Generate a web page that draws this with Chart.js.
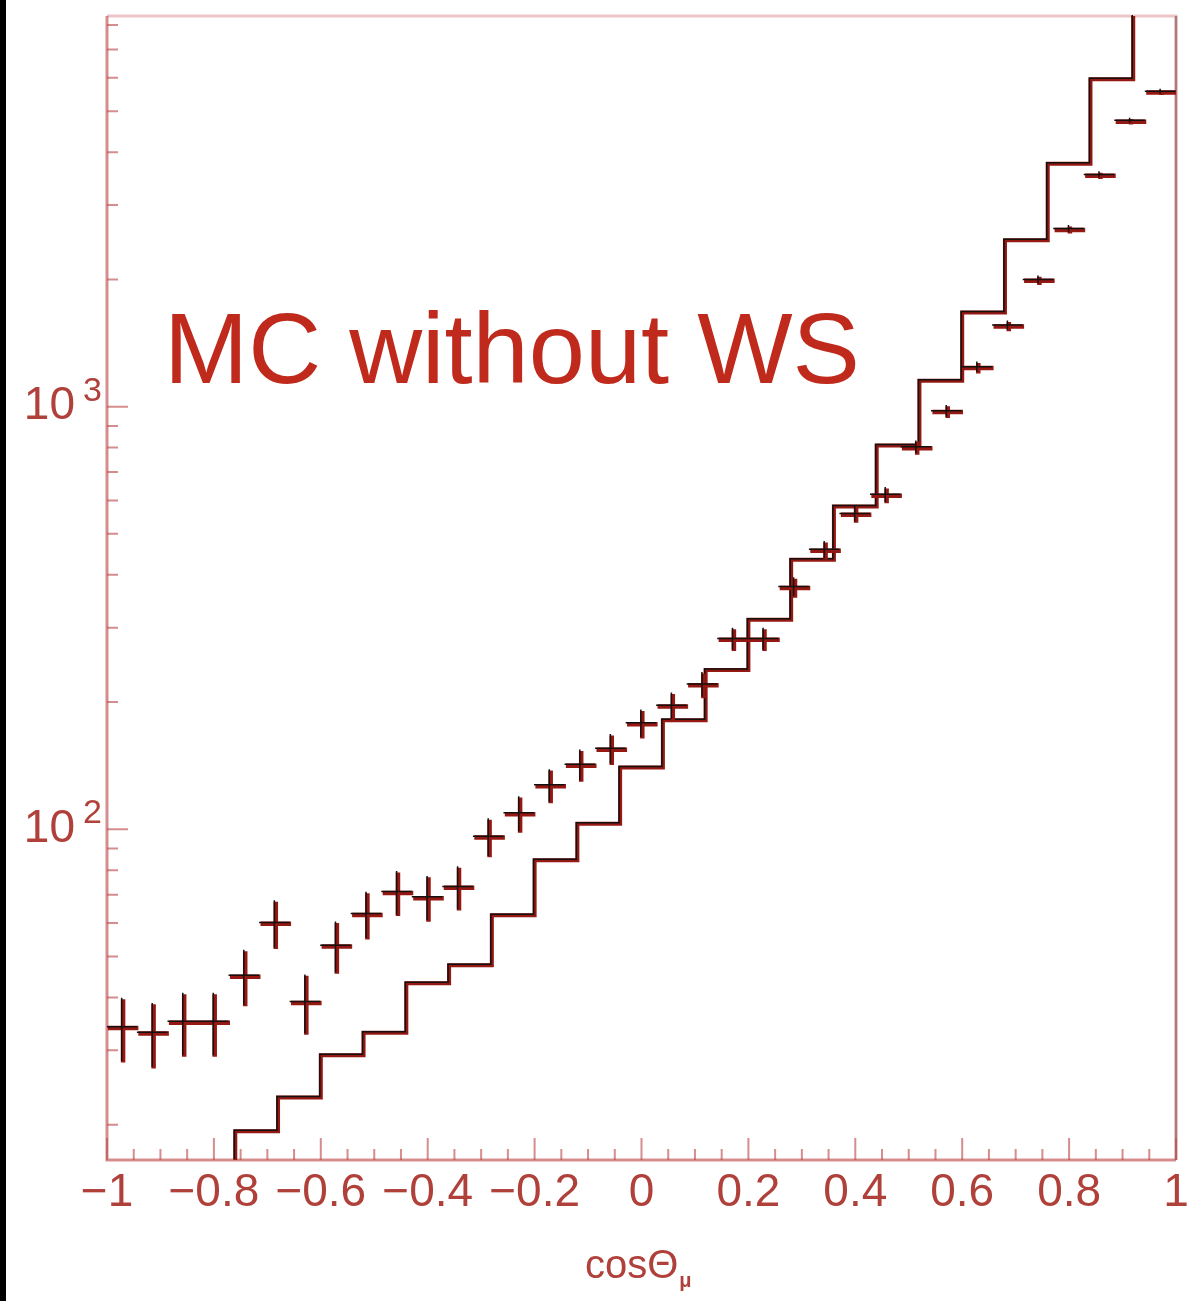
<!DOCTYPE html>
<html>
<head>
<meta charset="utf-8">
<script src="https://cdn.jsdelivr.net/npm/chart.js@4.4.1/dist/chart.umd.min.js"></script>
<style>
  html, body { margin: 0; padding: 0; background: #fff; }
  #wrap { position: relative; width: 1203px; height: 1301px; overflow: hidden; }
  #edge { position: absolute; left: 0; top: 0; width: 6px; height: 1301px; background: #000; }
  canvas { display: block; }
</style>
</head>
<body>
<div id="wrap">
  <canvas id="c" width="1203" height="1301"></canvas>
  <div id="edge"></div>
</div>
<script>
// cos(theta_mu) distribution: measured counts (35 bins) and MC histogram (25 bins)

// bin centres of the measured distribution
const dataCenters = [-0.9714, -0.9143, -0.8571, -0.8000, -0.7429, -0.6857, -0.6286,
  -0.5714, -0.5143, -0.4571, -0.4000, -0.3429, -0.2857, -0.2286, -0.1714, -0.1143,
  -0.0571, 0.0000, 0.0571, 0.1143, 0.1714, 0.2286, 0.2857, 0.3429, 0.4000, 0.4571,
  0.5143, 0.5714, 0.6286, 0.6857, 0.7429, 0.8000, 0.8571, 0.9143, 0.9714];
// measured counts per bin
const dataCounts = [34, 33, 35, 35, 45, 60, 39, 53, 63, 71, 69, 73, 96, 109, 127, 142,
  155, 178, 196, 220, 282, 282, 374, 458, 557, 618, 801, 975, 1239, 1554, 1993, 2630,
  3532, 4743, 5558];
// statistical errors per bin
const dataErrors = [5.8, 5.7, 5.9, 5.9, 6.7, 7.7, 6.2, 7.3, 7.9, 8.4, 8.3, 8.5, 9.8,
  10.4, 11.3, 11.9, 12.4, 13.3, 14.0, 14.8, 16.8, 16.8, 19.3, 21.4, 23.6, 24.9, 28.3,
  31.2, 35.2, 39.4, 44.6, 51.3, 59.4, 68.9, 74.6];
const dataHalfWidth = 0.0286;

// MC histogram: bin edges and contents
const mcEdges = [-1.00, -0.92, -0.84, -0.76, -0.68, -0.60, -0.52, -0.44, -0.36, -0.28,
  -0.20, -0.12, -0.04, 0.04, 0.12, 0.20, 0.28, 0.36, 0.44, 0.52, 0.60, 0.68, 0.76,
  0.84, 0.92, 1.00];
const mcCounts = [10.5, 12.5, 15, 19.3, 23.2, 29.2, 33.0, 43.2, 47.7, 62.6, 84.5, 103,
  140, 181, 238, 313, 434, 580, 809, 1152, 1671, 2477, 3758, 5954, 9300];

// axis ticks
const xTickValues = [-1, -0.8, -0.6, -0.4, -0.2, 0, 0.2, 0.4, 0.6, 0.8, 1];
const xTickLabels = ['\u22121', '\u22120.8', '\u22120.6', '\u22120.4', '\u22120.2', '0',
  '0.2', '0.4', '0.6', '0.8', '1'];
const yTickExponents = [2, 3];
const xTitle = 'cos\u0398';
const xTitleSub = '\u03bc';
const overlayText = 'MC without WS';

const FONT = '"Liberation Sans", Arial, Helvetica, sans-serif';
const COL = {
  label: '#b0403a',
  axis: 'rgba(190, 80, 80, 0.65)',
  axisLight: 'rgba(205, 110, 110, 0.4)',
  red: '#951812',
  ink: '#141010',
  big: '#bf2a1c'
};

// step histogram points: each bin starts at its left edge, closing point at the last edge
const mcPoints = mcCounts.map((v, i) => ({ x: mcEdges[i], y: v }));
mcPoints.push({ x: mcEdges[mcEdges.length - 1], y: mcCounts[mcCounts.length - 1] });
const dataPoints = dataCenters.map((c, i) => ({ x: c, y: dataCounts[i] }));

// frame, inward ticks, y labels, axis title and overlay text
const decorations = {
  id: 'decorations',
  beforeDatasetsDraw(chart) {
    const { ctx, chartArea: a, scales: { x, y } } = chart;
    ctx.save();
    // top and right frame
    ctx.strokeStyle = COL.axisLight;
    ctx.lineWidth = 3;
    ctx.beginPath();
    ctx.moveTo(a.left, a.top); ctx.lineTo(a.right, a.top); ctx.lineTo(a.right, a.bottom);
    ctx.stroke();
    ctx.strokeStyle = 'rgba(150, 90, 90, 0.7)';
    ctx.lineWidth = 2.5;
    ctx.beginPath(); ctx.moveTo(a.right, a.top); ctx.lineTo(a.right, a.bottom); ctx.stroke();
    // left and bottom axes
    ctx.strokeStyle = COL.axis;
    ctx.lineWidth = 3;
    ctx.beginPath();
    ctx.moveTo(a.left, a.top); ctx.lineTo(a.left, a.bottom); ctx.lineTo(a.right, a.bottom);
    ctx.stroke();
    // x ticks: major every 0.2, minor every 0.05
    ctx.lineWidth = 2;
    ctx.beginPath();
    for (let k = 0; k <= 40; k++) {
      const v = -1 + k * 0.05;
      const px = x.getPixelForValue(v);
      const len = (k % 4 === 0) ? 22 : 11;
      ctx.moveTo(px, a.bottom); ctx.lineTo(px, a.bottom - len);
    }
    // y ticks on the log scale
    for (let e = 1; e <= 3; e++) {
      for (let m = 1; m <= 9; m++) {
        const v = m * Math.pow(10, e);
        if (v < y.min || v > y.max) continue;
        const py = y.getPixelForValue(v);
        const len = (m === 1) ? 21 : 11;
        ctx.moveTo(a.left, py); ctx.lineTo(a.left + len, py);
      }
    }
    ctx.stroke();

    // y tick labels 10^n
    ctx.fillStyle = COL.label;
    yTickExponents.forEach(n => {
      const py = y.getPixelForValue(Math.pow(10, n));
      ctx.font = '46px ' + FONT;
      ctx.textAlign = 'right'; ctx.textBaseline = 'middle';
      ctx.fillText('10', 75, py);
      ctx.font = '34px ' + FONT;
      ctx.textAlign = 'left'; ctx.textBaseline = 'alphabetic';
      ctx.fillText(String(n), 83, py - 6);
    });

    // x axis title
    ctx.font = '40px ' + FONT;
    ctx.textAlign = 'left'; ctx.textBaseline = 'alphabetic';
    ctx.fillText(xTitle, 585, 1278);
    const w = ctx.measureText(xTitle).width;
    ctx.font = 'bold 20px ' + FONT;
    ctx.fillText(xTitleSub, 585 + w + 1, 1287);

    // overlay text
    ctx.fillStyle = COL.big;
    ctx.font = '101px ' + FONT;
    ctx.fillText(overlayText, 164, 383);
    ctx.restore();
  },
  beforeDatasetDraw(chart, args) {
    if (chart.data.datasets[args.index].inkShift) {
      chart.ctx.save();
      chart.ctx.translate(-1, -1);
    }
  },
  afterDatasetDraw(chart, args) {
    if (chart.data.datasets[args.index].inkShift) {
      chart.ctx.restore();
    }
  }
};

// crosses for the measured points: bin width horizontally, error vertically
const errorBars = {
  id: 'errorBars',
  afterDatasetsDraw(chart) {
    const { ctx, chartArea: a, scales: { x, y } } = chart;
    const ds = chart.data.datasets[2];
    const meta = chart.getDatasetMeta(2);
    ctx.save();
    ctx.beginPath();
    ctx.rect(a.left, a.top, a.right - a.left, a.bottom - a.top);
    ctx.clip();
    const pass = (color, width, dx, dy) => {
      ctx.strokeStyle = color;
      ctx.lineWidth = width;
      ctx.beginPath();
      meta.data.forEach((pt, i) => {
        const raw = ds.data[i];
        const err = ds.errors[i];
        const xl = x.getPixelForValue(raw.x - dataHalfWidth);
        const xr = x.getPixelForValue(raw.x + dataHalfWidth);
        const yt = y.getPixelForValue(raw.y + err);
        const yb = y.getPixelForValue(raw.y - err);
        ctx.moveTo(xl + dx, pt.y + dy); ctx.lineTo(xr + dx, pt.y + dy);
        ctx.moveTo(pt.x + dx, yt + dy); ctx.lineTo(pt.x + dx, yb + dy);
      });
      ctx.stroke();
    };
    pass(COL.red, 4.5, 0.8, 0.8);
    pass(COL.ink, 1.5, -0.6, -0.6);
    ctx.restore();
  }
};

new Chart(document.getElementById('c'), {
  type: 'scatter',
  data: {
    datasets: [
      {
        label: 'MC', type: 'line', data: mcPoints, stepped: 'before', order: 2,
        borderColor: COL.red, borderWidth: 4, pointRadius: 0, fill: false
      },
      {
        label: 'MC', type: 'line', data: mcPoints, stepped: 'before', order: 1,
        inkShift: true,
        borderColor: COL.ink, borderWidth: 1.5, pointRadius: 0, fill: false
      },
      {
        label: 'Data', data: dataPoints, errors: dataErrors, order: 0,
        pointRadius: 0, borderWidth: 0, backgroundColor: 'rgba(0,0,0,0)'
      }
    ]
  },
  options: {
    responsive: false,
    animation: false,
    events: [],
    layout: { padding: { top: 16, right: 27, left: 0, bottom: 0 } },
    plugins: { legend: { display: false }, tooltip: { enabled: false } },
    scales: {
      x: {
        type: 'linear', min: -1, max: 1,
        afterFit(s) { s.height = 141; },
        afterBuildTicks(s) { s.ticks = xTickValues.map(v => ({ value: v })); },
        border: { display: false },
        grid: { display: false, drawTicks: false },
        ticks: {
          autoSkip: false, maxRotation: 0, padding: 6,
          color: COL.label,
          font: { family: FONT, size: 46 },
          callback: (v) => {
            const i = xTickValues.findIndex(t => Math.abs(t - v) < 1e-6);
            return i >= 0 ? xTickLabels[i] : '';
          }
        }
      },
      y: {
        type: 'logarithmic', min: 16.5, max: 8400,
        afterFit(s) { s.width = 107; },
        border: { display: false },
        grid: { display: false, drawTicks: false },
        ticks: { display: false }
      }
    }
  },
  plugins: [decorations, errorBars]
});
</script>
</body>
</html>
